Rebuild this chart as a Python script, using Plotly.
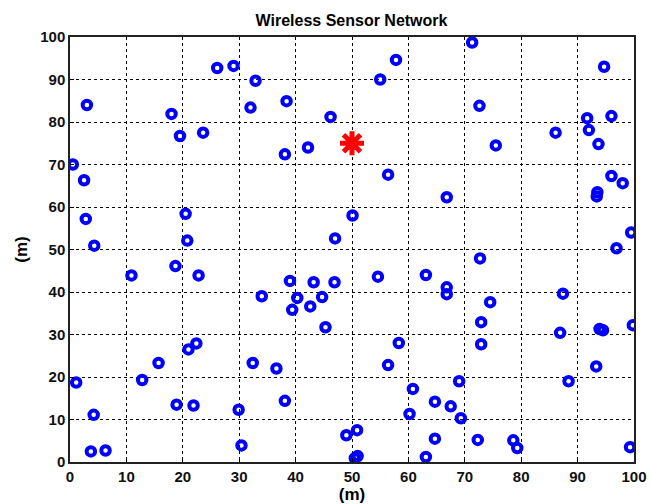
import plotly.graph_objects as go

# Sensor node positions (m)
node_x = [0.5, 2.5, 3.0, 2.8, 4.3, 18.0, 19.5, 23.6, 26.1, 29.0, 32.9, 32.0, 38.4, 38.1, 42.2, 46.2, 20.5, 20.8, 47.0, 50.1,
          71.3, 57.8, 55.0, 72.6, 75.5, 86.1, 94.7, 91.7, 96.0, 92.0, 93.7, 96.0, 98.0, 93.5, 93.4, 56.4, 66.8, 99.5, 96.9,
          10.9, 18.7, 22.8, 39.0, 43.2, 46.9, 34.0, 40.3, 44.7, 39.4, 42.6, 45.3, 22.4, 21.0, 15.7, 12.8, 1.1, 32.4, 36.6,
          38.1, 18.9, 21.9, 29.9, 4.2, 3.7, 6.3, 30.4, 49.0, 50.9, 50.5, 51.0,
          72.7, 54.6, 63.1, 66.8, 66.8, 74.5, 87.4, 72.9, 72.9, 86.9, 93.9, 94.5, 99.8, 58.3, 56.4, 69.0, 60.8, 64.7, 67.5,
          69.3, 60.2, 88.4, 93.3, 64.7, 72.3, 78.6, 79.3, 63.1, 99.3]
node_y = [70.0, 66.3, 84.0, 57.2, 50.9, 81.9, 76.7, 77.5, 92.7, 93.2, 89.7, 83.4, 84.9, 72.4, 74.0, 81.2, 58.4, 52.1, 52.6, 58.0,
          98.7, 94.6, 90.0, 83.8, 74.5, 77.5, 93.0, 80.9, 81.4, 78.1, 74.8, 67.3, 65.6, 63.5, 62.5, 67.6, 62.3, 54.0, 50.3,
          43.9, 46.1, 43.9, 42.6, 42.3, 42.3, 39.0, 38.6, 38.8, 35.8, 36.6, 31.7, 27.9, 26.5, 23.3, 19.3, 18.7, 23.3, 22.0,
          14.4, 13.5, 13.3, 12.3, 11.1, 2.5, 2.7, 3.9, 6.3, 7.5, 0.9, 1.4,
          47.9, 43.6, 44.0, 41.1, 39.5, 37.6, 39.6, 32.9, 27.7, 30.4, 31.3, 31.0, 32.2, 28.0, 22.8, 19.0, 17.2, 14.2, 13.1,
          10.3, 11.3, 19.0, 22.5, 5.5, 5.2, 5.1, 3.3, 1.2, 3.5]

# Sink (base station)
sink_x = [50]
sink_y = [75]

tick_vals = [0, 10, 20, 30, 40, 50, 60, 70, 80, 90, 100]

FONT = "Arial, Liberation Sans, sans-serif"

fig = go.Figure()
fig.add_trace(go.Scatter(
    x=node_x, y=node_y, mode="markers",
    marker=dict(symbol="circle-open", size=8.5, color="#0000ff",
                line=dict(width=4, color="#0000ff")),
    showlegend=False, hoverinfo="x+y"))
fig.add_trace(go.Scatter(
    x=sink_x, y=sink_y, mode="markers",
    marker=dict(symbol="asterisk-open", size=20, color="#ff0000",
                line=dict(width=5, color="#ff0000")),
    showlegend=False))

axis_common = dict(
    range=[0, 100], tickvals=tick_vals, showgrid=True,
    gridcolor="black", gridwidth=1, griddash="3px,3px",
    showline=True, linecolor="#222222", linewidth=1.5, mirror=True,
    ticks="inside", ticklen=4, tickcolor="black",
    zeroline=False, automargin=False,
    tickfont=dict(family=FONT, size=15, color="#111111", weight="bold"),
)

fig.update_layout(
    width=649, height=504,
    paper_bgcolor="white", plot_bgcolor="white",
    margin=dict(l=70, r=15, t=37, b=42),
    font=dict(family=FONT, size=14, color="black"),
    title=dict(text="<b>Wireless Sensor Network</b>", x=351.5 / 649, xanchor="center",
               y=1 - 20 / 504, yanchor="middle", automargin=False,
               font=dict(family=FONT, size=16, color="black")),
    xaxis=dict(**axis_common,
               title=dict(text="<b>(m)</b>", standoff=6,
                          font=dict(family=FONT, size=17, color="black"))),
    yaxis=dict(**axis_common,
               title=dict(text="<b>(m)</b>", standoff=8,
                          font=dict(family=FONT, size=17, color="black"))),
)

fig.write_html("out.html",
               config={"displayModeBar": False},
               post_script="document.body.style.margin='0';document.body.style.padding='0';")
